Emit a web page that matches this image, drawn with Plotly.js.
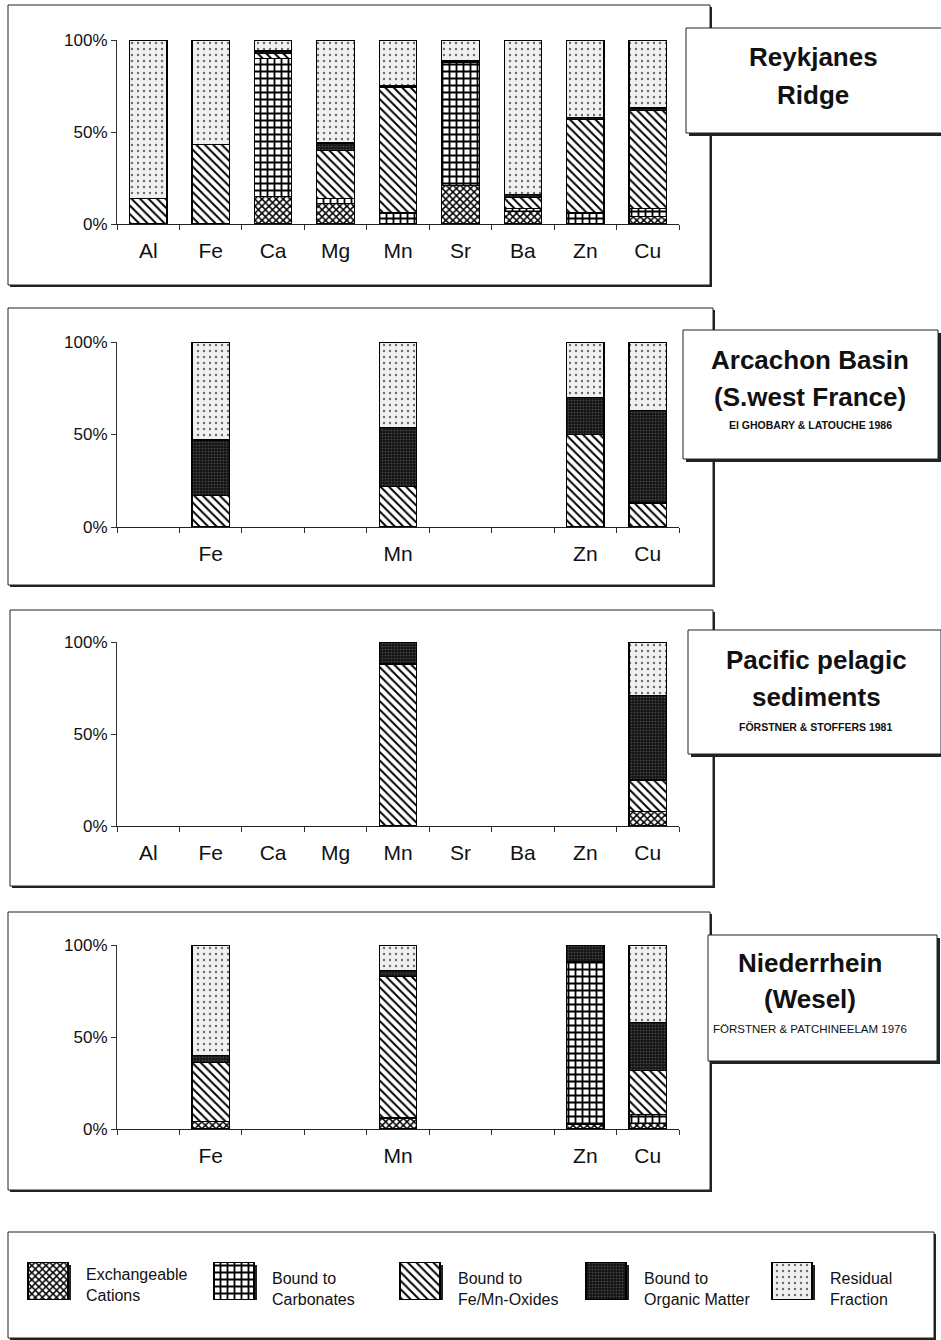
<!DOCTYPE html>
<html>
<head>
<meta charset="utf-8">
<script src="https://cdn.plot.ly/plotly-3.0.1.min.js"></script>
<style>html,body{margin:0;padding:0;background:#fff;}#chart{width:941px;height:1340px;}</style>
</head>
<body>
<div id="chart"></div>
<script>
// ---------- DATA ----------
const elements = ["Al","Fe","Ca","Mg","Mn","Sr","Ba","Zn","Cu"];
const fractionNames = ["Exchangeable<br>Cations","Bound to<br>Carbonates","Bound to<br>Fe/Mn-Oxides","Bound to<br>Organic Matter","Residual<br>Fraction"];

// Reykjanes Ridge (% of total, per element)
const reykExch  = [0, 0, 15, 11, 0, 21, 7, 0, 4];
const reykCarb  = [0, 0, 75, 3, 6, 67, 1.5, 6, 4.5];
const reykOxid  = [14, 43, 2.5, 26, 68.5, 0, 6, 51, 53];
const reykOrg   = [0, 0, 1.5, 4, 0.5, 0.8, 1.5, 0.8, 1.5];
const reykResid = [86, 57, 6, 56, 25, 11.2, 84, 42.2, 37];

// Arcachon Basin
const arcExch  = [0, 0, 0, 0, 0, 0, 0, 0, 0];
const arcCarb  = [0, 0, 0, 0, 0, 0, 0, 0, 0];
const arcOxid  = [0, 17, 0, 0, 22, 0, 0, 50, 13];
const arcOrg   = [0, 30, 0, 0, 32, 0, 0, 20, 50];
const arcResid = [0, 53, 0, 0, 46, 0, 0, 30, 37];

// Pacific pelagic sediments
const pacExch  = [0, 0, 0, 0, 0, 0, 0, 0, 8];
const pacCarb  = [0, 0, 0, 0, 0, 0, 0, 0, 0];
const pacOxid  = [0, 0, 0, 0, 88, 0, 0, 0, 17];
const pacOrg   = [0, 0, 0, 0, 12, 0, 0, 0, 46];
const pacResid = [0, 0, 0, 0, 0, 0, 0, 0, 29];

// Niederrhein (Wesel)
const niedExch  = [0, 4, 0, 0, 6, 0, 0, 2.5, 3];
const niedCarb  = [0, 0, 0, 0, 0, 0, 0, 88.5, 5];
const niedOxid  = [0, 32, 0, 0, 77, 0, 0, 0, 24];
const niedOrg   = [0, 4, 0, 0, 3, 0, 0, 9, 26];
const niedResid = [0, 60, 0, 0, 14, 0, 0, 0, 42];

// tick labels per panel
const labels1 = ["Al","Fe","Ca","Mg","Mn","Sr","Ba","Zn","Cu"];
const labels2 = ["","Fe","","","Mn","","","Zn","Cu"];
const labels3 = ["Al","Fe","Ca","Mg","Mn","Sr","Ba","Zn","Cu"];
const labels4 = ["","Fe","","","Mn","","","Zn","Cu"];
const yTickVals = [0, 50, 100];
const yTickText = ["0%", "50%", "100%"];

// ---------- STYLE ----------
const W = 941, H = 1340;
const px = x => x / W;
const py = y => 1 - y / H;
const FONT = "Liberation Sans, Arial, sans-serif";
const NARROW = "Liberation Sans Narrow, Arial Narrow, Liberation Sans, Arial, sans-serif";

const patterns = [
  {shape: "x", fgcolor: "#000", bgcolor: "#fff", size: 5, solidity: 0.5},
  {shape: "+", fgcolor: "#000", bgcolor: "#fff", size: 7, solidity: 0.45},
  {shape: "\\", fgcolor: "#000", bgcolor: "#fff", size: 6, solidity: 0.32},
  {shape: ".", fgcolor: "#4a4a4a", bgcolor: "#161616", size: 3, solidity: 0.25},
  {shape: ".", fgcolor: "#6a6a6a", bgcolor: "#f0f0f0", size: 6, solidity: 0.12}
];

const panels = [
  {data: [reykExch, reykCarb, reykOxid, reykOrg, reykResid], labels: labels1, y0: 224, y100: 40},
  {data: [arcExch, arcCarb, arcOxid, arcOrg, arcResid], labels: labels2, y0: 527, y100: 342},
  {data: [pacExch, pacCarb, pacOxid, pacOrg, pacResid], labels: labels3, y0: 826, y100: 642},
  {data: [niedExch, niedCarb, niedOxid, niedOrg, niedResid], labels: labels4, y0: 1129, y100: 945}
];

const traces = [];
const layout = {
  width: W, height: H,
  margin: {l: 0, r: 0, t: 0, b: 0},
  paper_bgcolor: "#fff",
  plot_bgcolor: "rgba(0,0,0,0)",
  barmode: "stack",
  showlegend: false,
  font: {family: FONT, color: "#111"},
  shapes: [],
  annotations: []
};

panels.forEach((p, i) => {
  const n = i + 1;
  const xa = "x" + (n === 1 ? "" : n), ya = "y" + (n === 1 ? "" : n);
  p.data.forEach((vals, f) => {
    traces.push({
      type: "bar", x: elements, y: vals.map(v => v || null),
      xaxis: xa, yaxis: ya, width: 0.6,
      name: fractionNames[f],
      marker: {color: patterns[f].bgcolor, pattern: Object.assign({fillmode: "replace"}, patterns[f]),
               line: {color: "#000", width: 1.2}},
      hoverinfo: "x+y+name"
    });
  });
  layout["xaxis" + (n === 1 ? "" : n)] = {
    domain: [px(117), px(679)], anchor: ya, type: "category",
    categoryorder: "array", categoryarray: elements,
    tickmode: "array", tickvals: elements, ticktext: p.labels,
    tickson: "boundaries", ticks: "outside", ticklen: 5, tickcolor: "#333",
    showline: true, linecolor: "#222", linewidth: 1.2,
    showgrid: false, zeroline: false, fixedrange: true,
    tickfont: {family: FONT, size: 21, color: "#111"}, ticklabelstandoff: 8
  };
  layout["yaxis" + (n === 1 ? "" : n)] = {
    domain: [py(p.y0), py(p.y100)], anchor: xa, range: [0, 100],
    tickmode: "array", tickvals: yTickVals, ticktext: yTickText,
    ticks: "outside", ticklen: 5, tickcolor: "#333",
    showline: true, linecolor: "#333", linewidth: 1,
    showgrid: false, zeroline: false, fixedrange: true,
    tickfont: {family: FONT, size: 17, color: "#111"}
  };
});

// legend subplot (x5/y5)
const legIdx = fractionNames.map((_, i) => i);
const legCenters0 = 48, legStep = 186, swW = 40;
layout.xaxis5 = {domain: [0, 1], anchor: "y5", range: [-legCenters0 / legStep, (W - legCenters0) / legStep],
  visible: false, fixedrange: true};
layout.yaxis5 = {domain: [py(1300), py(1262)], anchor: "x5", range: [0, 1], visible: false, fixedrange: true};
fractionNames.forEach((name, f) => {
  const y = legIdx.map(i => i === f ? 1 : null);
  traces.push({
    type: "bar", x: legIdx, y: y, xaxis: "x5", yaxis: "y5", width: swW / legStep,
    marker: {color: patterns[f].bgcolor, pattern: Object.assign({fillmode: "replace"}, patterns[f]),
             line: {color: "#000", width: 1.2}},
    hoverinfo: "skip"
  });
  layout.annotations.push({
    xref: "x5", yref: "paper", x: f, y: py(f === 0 ? 1285 : 1289), xshift: 36,
    xanchor: "left", yanchor: "middle", align: "left", showarrow: false,
    text: name, font: {family: NARROW, size: 16, color: "#111"}
  });
  // swatch shadow
  layout.shapes.push({type: "rect", xref: "x5", yref: "y5", layer: "below",
    x0: f - swW / legStep / 2 + 3 / legStep, x1: f + swW / legStep / 2 + 3 / legStep,
    y0: -3 / 38, y1: 1 - 3 / 38, fillcolor: "#222", line: {width: 0}});
});

// panel frames with shadows
function frame(x0, y0, x1, y1, sh) {
  layout.shapes.push({type: "rect", xref: "paper", yref: "paper", layer: "below",
    x0: px(x0 + sh), x1: px(x1 + sh), y0: py(y1 + sh), y1: py(y0 + sh), fillcolor: "#222", line: {width: 0}});
  layout.shapes.push({type: "rect", xref: "paper", yref: "paper", layer: "below",
    x0: px(x0), x1: px(x1), y0: py(y1), y1: py(y0), fillcolor: "#fff", line: {color: "#222", width: 1}});
}
frame(8, 5, 710, 285, 2);
frame(8, 308, 713, 585, 2);
frame(10, 610, 713, 886, 2);
frame(8, 912, 710, 1190, 2);
frame(8, 1232, 934, 1338, 2);
// title boxes
frame(686, 28, 945, 133, 3);
frame(683, 330, 938, 459, 3);
frame(688, 630, 941, 754, 3);
frame(708, 935, 937, 1061, 3);

function label(x, y, text, size, weight, fam) {
  layout.annotations.push({xref: "paper", yref: "paper", x: px(x), y: py(y), xanchor: "center", yanchor: "middle",
    showarrow: false, text: text, font: {family: fam || FONT, size: size, weight: weight, color: "#111"}});
}
label(813, 57, "Reykjanes", 26, "bold");
label(813, 95, "Ridge", 26, "bold");
label(810, 360, "Arcachon Basin", 26, "bold");
label(810, 397, "(S.west France)", 26, "bold");
label(810, 425, "El GHOBARY & LATOUCHE 1986", 10.5, "bold");
label(816, 660, "Pacific pelagic", 26, "bold");
label(816, 697, "sediments", 26, "bold");
label(815, 727, "FÖRSTNER & STOFFERS 1981", 10.5, "bold");
label(810, 963, "Niederrhein", 26, "bold");
label(810, 999, "(Wesel)", 26, "bold");
label(810, 1029, "FÖRSTNER & PATCHINEELAM 1976", 11.5, "normal", NARROW);

Plotly.newPlot("chart", traces, layout, {displayModeBar: false, staticPlot: true});
</script>
</body>
</html>
